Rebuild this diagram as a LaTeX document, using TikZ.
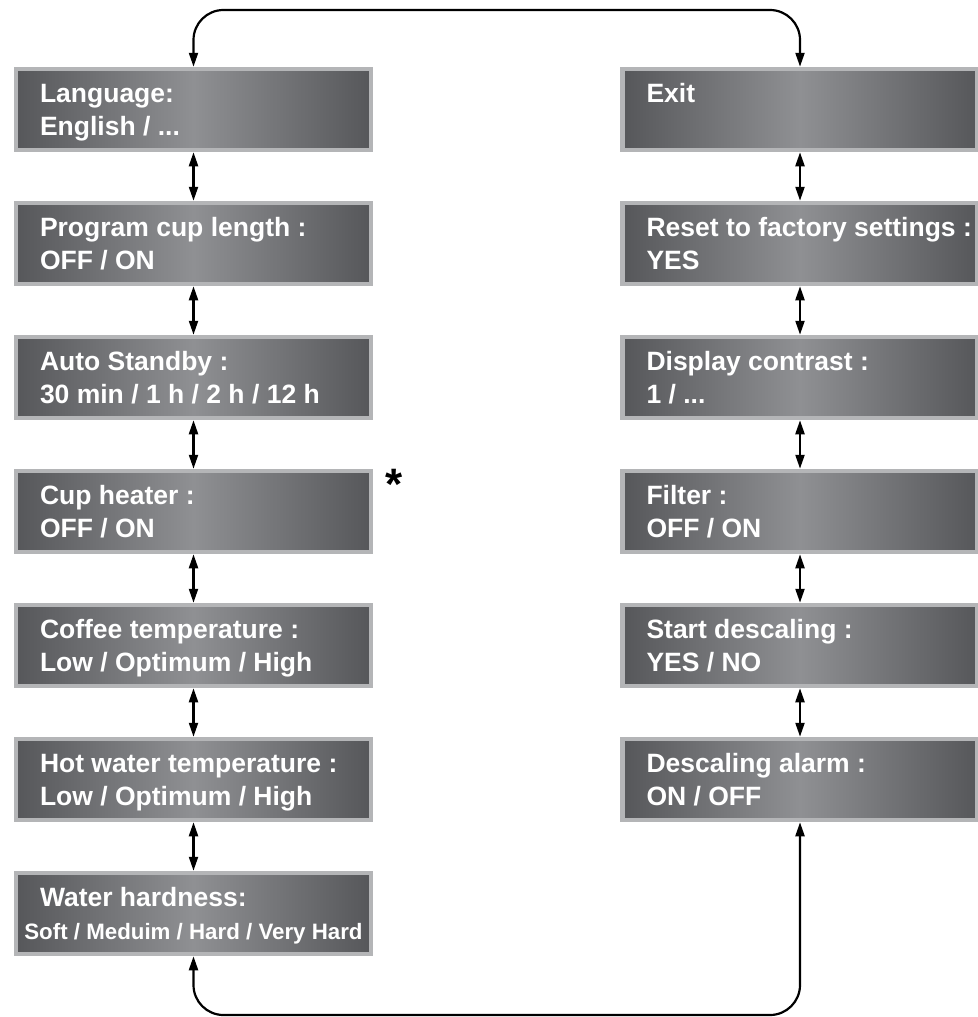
\documentclass[tikz,border=0pt]{standalone}
\usepackage{fontspec}
\setmainfont{Liberation Sans}
\usetikzlibrary{arrows.meta,positioning}
\definecolor{panelDark}{HTML}{56575A}
\definecolor{panelLight}{HTML}{8F9093}
\definecolor{panelEdge}{HTML}{B4B5B7}
\newcommand{\boxstrut}{\rule[-6pt]{0pt}{30pt}}
\newcommand{\menu}[2]{\makebox[307pt][l]{\boxstrut#1}\\\makebox[307pt][l]{\boxstrut#2}}

\begin{document}
\begin{tikzpicture}[
    x=1pt, y=1pt,
    node distance=48.5pt,
    box/.style={rectangle, draw=panelEdge, line width=4.5pt, left color=panelDark, right color=panelDark, middle color=panelLight,
        minimum width=355pt, minimum height=81pt, inner xsep=24pt, inner ysep=0pt,
        align=left, text=white, font=\bfseries\fontsize{26.5}{33}\selectfont},
    arrow/.style={{Triangle[length=14pt,width=9pt]}-{Triangle[length=14pt,width=9pt]}, line width=2.2pt},
    wrap/.style={arrow, rounded corners=30pt}
]
    \useasboundingbox (0,0) rectangle (977,-1017);

    % left column
    \node[box] (lang) at (193.5,-109.5) {\menu{Language:}{English / ...}};
    \node[box, below=of lang] (cuplen) {\menu{Program cup length :}{OFF / ON}};
    \node[box, below=of cuplen] (standby) {\menu{Auto Standby :}{30 min / 1 h / 2 h / 12 h}};
    \node[box, below=of standby] (heater) {\menu{Cup heater :}{OFF / ON}};
    \node[box, below=of heater] (coffeetemp) {\menu{Coffee temperature :}{Low / Optimum / High}};
    \node[box, below=of coffeetemp] (watertemp) {\menu{Hot water temperature :}{Low / Optimum / High}};
    \node[box, below=of watertemp] (hardness) {\menu{Water hardness:}{\makebox[307pt][c]{\fontsize{22.3}{33}\selectfont Soft / Meduim / Hard / Very Hard}}};

    % right column
    \node[box] (exit) at (800,-109.5) {\menu{Exit}{}};
    \node[box, below=of exit] (reset) {\menu{Reset to factory settings :}{YES}};
    \node[box, below=of reset] (contrast) {\menu{Display contrast :}{1 / ...}};
    \node[box, below=of contrast] (filter) {\menu{Filter :}{OFF / ON}};
    \node[box, below=of filter] (descale) {\menu{Start descaling :}{YES / NO}};
    \node[box, below=of descale] (alarm) {\menu{Descaling alarm :}{ON / OFF}};

    \node (star) at (394,-484) {\bfseries\fontsize{44}{44}\selectfont *};

    \draw[arrow] (lang) -- (cuplen);
    \draw[arrow] (cuplen) -- (standby);
    \draw[arrow] (standby) -- (heater);
    \draw[arrow] (heater) -- (coffeetemp);
    \draw[arrow] (coffeetemp) -- (watertemp);
    \draw[arrow] (watertemp) -- (hardness);

    \draw[arrow] (exit) -- (reset);
    \draw[arrow] (reset) -- (contrast);
    \draw[arrow] (contrast) -- (filter);
    \draw[arrow] (filter) -- (descale);
    \draw[arrow] (descale) -- (alarm);

    % wrap-around links
    \coordinate (topline) at (0,-10);
    \coordinate (bottomline) at (0,-1015);
    \draw[wrap] (lang.north) -- (lang.north |- topline) -- (exit.north |- topline) -- (exit.north);
    \draw[wrap] (hardness.south) -- (hardness.south |- bottomline) -- (alarm.south |- bottomline) -- (alarm.south);
\end{tikzpicture}
\end{document}
